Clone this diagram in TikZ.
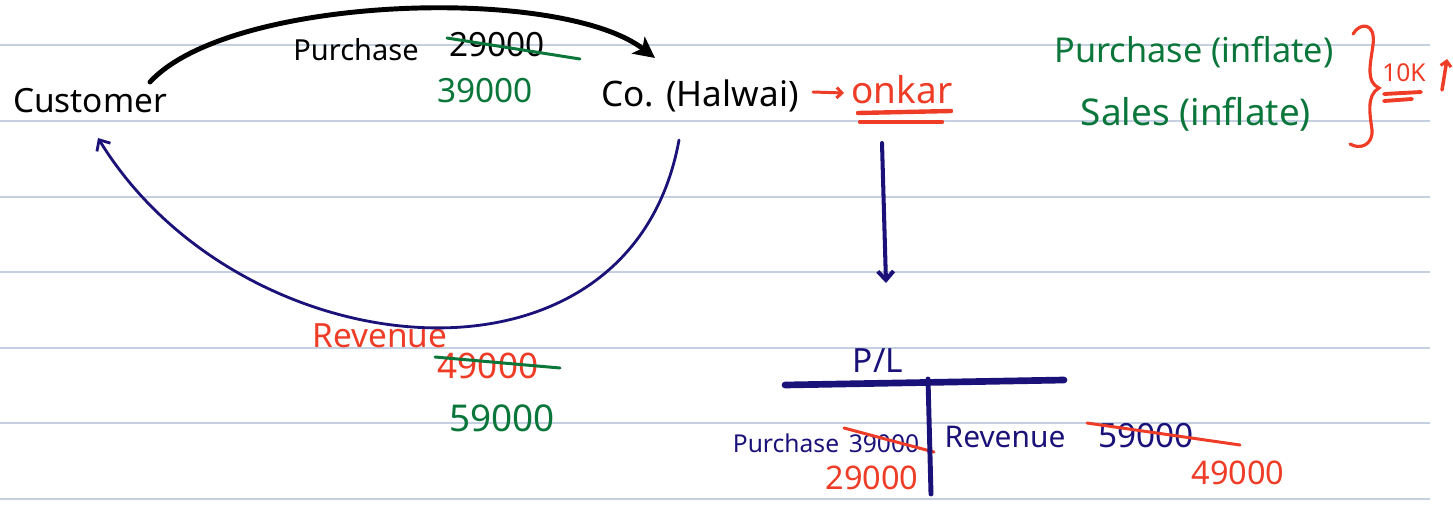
\documentclass[tikz,border=0pt]{standalone}
\usepackage{fontspec}
\setmainfont{Noto Sans}
\usetikzlibrary{arrows.meta}
\definecolor{rulec}{RGB}{196,208,226}
\definecolor{grn}{RGB}{10,118,58}
\definecolor{rd}{RGB}{238,60,38}
\definecolor{nvy}{RGB}{26,18,120}
\newcommand{\hsz}[1]{\fontsize{#1}{#1}\selectfont}
\begin{document}
\begin{tikzpicture}[x=0.02cm,y=-0.02cm,
  lbl/.style={inner sep=0pt, anchor=center},
  ruleline/.style={rulec, line width=0.8pt},
  strike/.style={line width=1.7pt, line cap=round},
  blackarrow/.style={line width=2.8pt, line cap=round, -{Stealth[length=12pt,width=12pt,inset=3pt]}},
  bluecurve/.style={nvy, line width=1.6pt, line cap=round, -{Straight Barb[length=5pt,width=9pt,line width=1.6pt]}},
  bluedown/.style={nvy, line width=2.3pt, line cap=round, -{Straight Barb[length=5pt,width=9pt,line width=2.3pt]}},
  redarrow/.style={rd, line width=1.7pt, line cap=round, -{Straight Barb[length=3pt,width=6pt,line width=1.7pt]}},
  tline/.style={nvy, line cap=round},
  redline/.style={rd, line width=2.5pt, line cap=round}]
\useasboundingbox (0,0) rectangle (1453,504);
% ruled lines
\foreach \yy in {45,121,197,272,348,423,499}
  \draw[ruleline] (0,\yy) -- (1430,\yy);

% labels
\node[lbl, font=\hsz{19}] (cust) at (90,101) {Customer};
\node[lbl, font=\hsz{20}] (co) at (700,96) {Co. (Halwai)};
\node[lbl, font=\hsz{16.5}] (purch1) at (356,50) {Purchase};
\node[lbl, font=\hsz{19}] (n29a) at (497,45) {29000};
\node[lbl, font=\hsz{19}, text=grn] (n39a) at (485,91) {39000};
\node[lbl, font=\hsz{21}, text=rd] (onkar) at (902,90) {onkar};
\node[lbl, font=\hsz{19.5}, text=grn] (g1) at (1194,52) {Purchase (inflate)};
\node[lbl, font=\hsz{21}, text=grn] (g2) at (1196,114) {Sales (inflate)};
\node[lbl, font=\hsz{14}, text=rd] (k10) at (1404,73) {10K};
\node[lbl, font=\hsz{19}, text=rd] (rev1) at (380,336) {Revenue};
\node[lbl, font=\hsz{20}, text=rd] (n49a) at (488,366) {49000};
\node[lbl, font=\hsz{21}, text=grn] (n59a) at (502,418) {59000};
\node[lbl, font=\hsz{19}, text=nvy] (pl) at (878,361) {P/L};
\node[lbl, font=\hsz{14}, text=nvy] (purch2) at (786,443) {Purchase};
\node[lbl, font=\hsz{14}, text=nvy] (n39b) at (884,444) {39000};
\node[lbl, font=\hsz{18.5}, text=rd] (n29b) at (872,478) {29000};
\node[lbl, font=\hsz{17}, text=nvy] (rev2) at (1005,437) {Revenue};
\node[lbl, font=\hsz{19}, text=nvy] (n59b) at (1146,436) {59000};
\node[lbl, font=\hsz{18.5}, text=rd] (n49b) at (1238,473) {49000};

% strike-throughs
\draw[strike, grn] (447,38) -- (580,59);
\draw[strike, grn] (435,357) -- (560,368);
\draw[strike, rd] (844,428) -- (934,452);
\draw[strike, rd] (1087,423) -- (1240,445);

% connectors
\draw[blackarrow] ([shift={(60,-19)}]cust.center) .. controls (230,-5) and (560,-15) .. ([shift={(-45,-38)}]co.center);
\draw[bluecurve] ([shift={(-21,44)}]co.center) .. controls (630,410) and (240,370) .. ([shift={(8,37)}]cust.center);
\draw[redarrow] ([shift={(113,-4)}]co.center) -- ([shift={(-58,3)}]onkar.center);
\draw[bluedown] ([shift={(-20,53)}]onkar.center) -- ([shift={(8,-78)}]pl.center);

% underline of onkar
\draw[redline] (858,113) -- (951,111);
\draw[redline] (860,122) -- (942,122);

% T account
\draw[tline, line width=3.8pt] (785,385) -- (1064,380);
\draw[tline, line width=2.8pt] (928,379) -- (931,494);

% brace
\draw[rd, line width=1.8pt, line cap=round] (1353,34) .. controls (1360,22) and (1376,22) .. (1373,45)
  .. controls (1370,66) and (1366,82) .. (1379,88)
  .. controls (1366,95) and (1370,115) .. (1372,130)
  .. controls (1373,145) and (1360,150) .. (1350,144);
% 10K underline and up arrow
\draw[redline, line width=2.2pt] (1384,94) -- (1421,92);
\draw[redline, line width=2.2pt] (1384,101) -- (1412,99);
\coordinate (upa) at (1442,90);
\coordinate (upb) at (1447,59);
\draw[redarrow, line width=2pt] (upa) -- (upb);
\end{tikzpicture}
\end{document}
